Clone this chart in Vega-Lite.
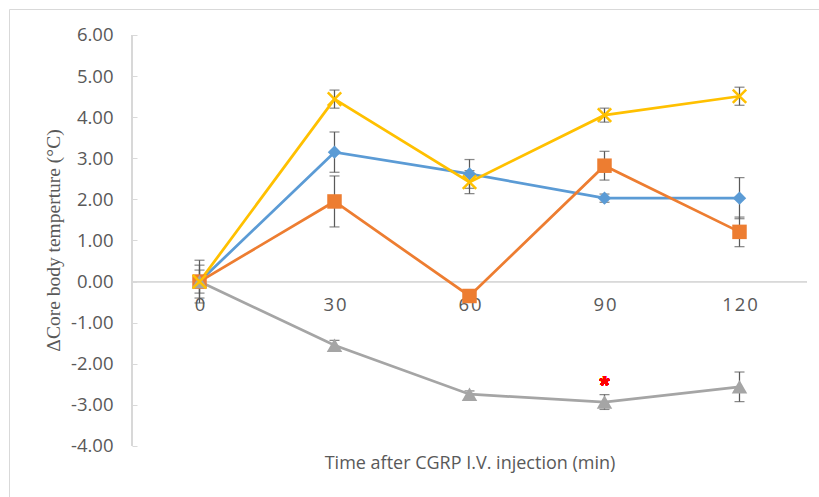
{
  "$schema": "https://vega.github.io/schema/vega-lite/v6.json",
  "width": 810,
  "height": 488,
  "autosize": {"type": "none"},
  "padding": {"left": 9, "top": 9, "right": 0, "bottom": 0},
  "background": "white",
  "config": {
    "view": {"stroke": "#d9d9d9", "strokeWidth": 1},
    "font": "Open Sans"
  },
  "data": {
    "values": [
      {"series": "Series1", "time": 0, "value": 0, "err": 0.40},
      {"series": "Series1", "time": 30, "value": 3.15, "err": 0.49},
      {"series": "Series1", "time": 60, "value": 2.62, "err": 0.35},
      {"series": "Series1", "time": 90, "value": 2.03, "err": 0.10},
      {"series": "Series1", "time": 120, "value": 2.03, "err": 0.50},
      {"series": "Series2", "time": 0, "value": 0, "err": 0.52},
      {"series": "Series2", "time": 30, "value": 1.95, "err": 0.62},
      {"series": "Series2", "time": 60, "value": -0.35, "err": 0.15},
      {"series": "Series2", "time": 90, "value": 2.82, "err": 0.35},
      {"series": "Series2", "time": 120, "value": 1.21, "err": 0.36},
      {"series": "Series3", "time": 0, "value": 0, "err": 0.15},
      {"series": "Series3", "time": 30, "value": -1.55, "err": 0.12},
      {"series": "Series3", "time": 60, "value": -2.74, "err": 0.08},
      {"series": "Series3", "time": 90, "value": -2.93, "err": 0.18},
      {"series": "Series3", "time": 120, "value": -2.56, "err": 0.36},
      {"series": "Series4", "time": 0, "value": 0, "err": 0.28},
      {"series": "Series4", "time": 30, "value": 4.44, "err": 0.22},
      {"series": "Series4", "time": 60, "value": 2.42, "err": 0.28},
      {"series": "Series4", "time": 90, "value": 4.05, "err": 0.17},
      {"series": "Series4", "time": 120, "value": 4.51, "err": 0.22}
    ]
  },
  "layer": [
    {
      "description": "horizontal zero line that carries the category labels; both axes are defined here",
      "mark": {"type": "rule", "color": "#d9d9d9", "strokeWidth": 1},
      "encoding": {
        "x": {
          "datum": -15,
          "type": "quantitative",
          "title": "Time after CGRP I.V. injection (min)",
          "scale": {"domain": [-42.333, 137.667], "nice": false, "zero": false},
          "axis": {
            "values": [0, 30, 60, 90, 120],
            "offset": -215.4,
            "domain": false,
            "ticks": false,
            "grid": false,
            "labelFlush": false,
            "labelFontSize": 18.5,
            "labelColor": "#595959",
            "labelPadding": 14,
            "labelExpr": "join(split(datum.label, ''), '\u200a')",
            "titleFontSize": 18,
            "titleFontWeight": "normal",
            "titleColor": "#595959",
            "titleX": 460.5,
            "titleY": 181.4,
            "titleAlign": "center",
            "titleBaseline": "middle"
          }
        },
        "x2": {"datum": 135},
        "y": {
          "datum": 0,
          "type": "quantitative",
          "title": "ΔCore body temperture (°C)",
          "scale": {"domain": [-5.241, 6.6326], "nice": false, "zero": false},
          "axis": {
            "values": [-4, -3, -2, -1, 0, 1, 2, 3, 4, 5, 6],
            "labelExpr": "replace(format(datum.value, '.2f'), '\u2212', '-')",
            "offset": -123,
            "domain": false,
            "grid": false,
            "tickColor": "#d9d9d9",
            "tickSize": -5,
            "labelFontSize": 18.5,
            "labelColor": "#595959",
            "labelPadding": 24,
            "titleFont": "Liberation Serif",
            "titleFontSize": 19.5,
            "titleFontWeight": "normal",
            "titleColor": "#595959",
            "titleAngle": -90,
            "titleX": -79,
            "titleY": 231,
            "titleAlign": "center",
            "titleBaseline": "middle"
          }
        }
      }
    },
    {
      "description": "vertical value axis line",
      "mark": {"type": "rule", "color": "#d9d9d9", "strokeWidth": 1},
      "encoding": {
        "x": {"datum": -15, "type": "quantitative", "title": "Time after CGRP I.V. injection (min)"},
        "y": {"datum": -4, "type": "quantitative", "title": "ΔCore body temperture (°C)"},
        "y2": {"datum": 6}
      }
    },
    {
      "mark": {
        "type": "errorbar",
        "ticks": {"size": 10, "thickness": 1.25, "color": "#595959"},
        "rule": {"strokeWidth": 1.25, "color": "#595959"}
      },
      "encoding": {
        "x": {"field": "time", "type": "quantitative", "title": "Time after CGRP I.V. injection (min)"},
        "y": {"field": "value", "type": "quantitative", "title": "ΔCore body temperture (°C)"},
        "yError": {"field": "err"},
        "detail": {"field": "series"}
      }
    },
    {
      "mark": {"type": "line", "strokeWidth": 2.75},
      "encoding": {
        "x": {"field": "time", "type": "quantitative", "title": "Time after CGRP I.V. injection (min)"},
        "y": {"field": "value", "type": "quantitative", "title": "ΔCore body temperture (°C)"},
        "color": {
          "field": "series",
          "type": "nominal",
          "scale": {"domain": ["Series1", "Series2", "Series3", "Series4"], "range": ["#5B9BD5", "#ED7D31", "#A5A5A5", "#FFC000"]},
          "legend": null
        }
      }
    },
    {
      "transform": [{"filter": "datum.series !== 'Series4'"}],
      "mark": {"type": "point", "filled": true, "opacity": 1},
      "encoding": {
        "x": {"field": "time", "type": "quantitative", "title": "Time after CGRP I.V. injection (min)"},
        "y": {"field": "value", "type": "quantitative", "title": "ΔCore body temperture (°C)"},
        "color": {"field": "series", "type": "nominal", "legend": null},
        "shape": {
          "field": "series",
          "type": "nominal",
          "scale": {"domain": ["Series1", "Series2", "Series3"], "range": ["diamond", "square", "triangle-up"]},
          "legend": null
        },
        "size": {
          "field": "series",
          "type": "nominal",
          "scale": {"domain": ["Series1", "Series2", "Series3"], "range": [180, 240, 200]},
          "legend": null
        }
      }
    },
    {
      "transform": [{"filter": "datum.series === 'Series4'"}],
      "mark": {"type": "point", "filled": false, "opacity": 1, "strokeWidth": 2.5, "shape": "M-1,-1L1,1M-1,1L1,-1", "size": 180},
      "encoding": {
        "x": {"field": "time", "type": "quantitative", "title": "Time after CGRP I.V. injection (min)"},
        "y": {"field": "value", "type": "quantitative", "title": "ΔCore body temperture (°C)"},
        "color": {"field": "series", "type": "nominal", "legend": null}
      }
    },
    {
      "description": "significance marker",
      "mark": {"type": "text", "text": "*", "color": "#FF0000", "fontSize": 26, "fontWeight": "bold", "font": "Liberation Sans", "baseline": "middle", "align": "center"},
      "encoding": {
        "x": {"datum": 90, "type": "quantitative", "title": "Time after CGRP I.V. injection (min)"},
        "y": {"datum": -2.53, "type": "quantitative", "title": "ΔCore body temperture (°C)"}
      }
    }
  ]
}
